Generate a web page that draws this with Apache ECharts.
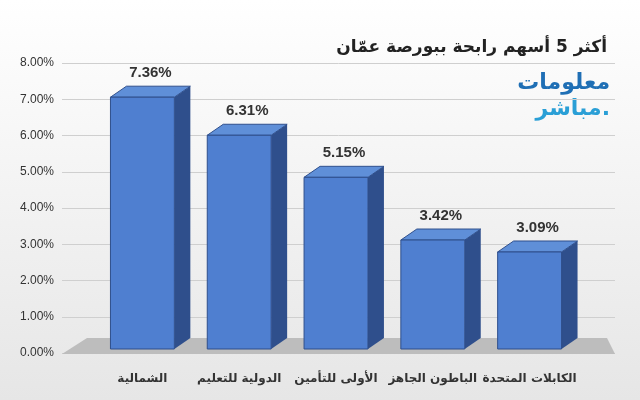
<!DOCTYPE html>
<html>
<head>
<meta charset="utf-8">
<script src="https://cdn.jsdelivr.net/npm/echarts@6/dist/echarts.min.js"></script>
<style>
html,body{margin:0;padding:0;}
#main{width:640px;height:400px;background:linear-gradient(#ffffff,#e6e6e6);}
</style>
</head>
<body>
<div id="main"></div>
<script>
var categories = ['الشمالية', 'الدولية للتعليم', 'الأولى للتأمين', 'الباطون الجاهز', 'الكابلات المتحدة'];
var values = [7.36, 6.31, 5.15, 3.42, 3.09];

var chart = echarts.init(document.getElementById('main'));
var DX = 16, DY = -11;

var option = {
    animation: false,
    title: {
        text: 'أكثر 5 أسهم رابحة ببورصة عمّان',
        right: 28,
        top: 34,
        textStyle: {fontFamily: 'DejaVu Sans', fontSize: 17, fontWeight: 'bold', color: '#222'}
    },
    graphic: [
        {type: 'text', right: 30, top: 72, style: {text: 'معلومات', font: 'bold 22px DejaVu Sans', fill: '#1f6fb5'}},
        {type: 'text', right: 30, top: 98, style: {text: 'مباشر.', font: 'bold 22px DejaVu Sans', fill: '#2a9fd6'}}
    ],
    grid: [
        {left: 62, right: 25, top: 63, bottom: 47},
        {left: 94, right: 62, top: 63, bottom: 47}
    ],
    xAxis: [
        {type: 'category', gridIndex: 0, data: [''], show: false},
        {
            type: 'category',
            gridIndex: 1,
            data: categories,
            axisLine: {show: false},
            axisTick: {show: false},
            axisLabel: {interval: 0, margin: 20, fontFamily: 'DejaVu Sans', fontSize: 12, fontWeight: 'bold', color: '#333'}
        }
    ],
    yAxis: [
        {
            type: 'value',
            gridIndex: 0,
            min: 0, max: 8, interval: 1,
            axisLine: {show: false},
            axisTick: {show: false},
            splitLine: {lineStyle: {color: '#cfcfcf'}},
            axisLabel: {formatter: function (v) { return v.toFixed(2) + '%'; }, fontFamily: 'Liberation Sans', fontSize: 12, color: '#333'}
        },
        {type: 'value', gridIndex: 1, min: 0, max: 8, interval: 1, show: false}
    ],
    series: [
        {
            type: 'custom',
            xAxisIndex: 0, yAxisIndex: 0,
            data: [0],
            silent: true,
            z: 1,
            renderItem: function (params, api) {
                var a = api.coord([0, 0]);
                var cs = params.coordSys;
                var x0 = cs.x, x1 = cs.x + cs.width;
                return {
                    type: 'polygon',
                    shape: {points: [[x0, a[1] + 1], [x1, a[1] + 1], [x1 - 8, a[1] - 15], [x0 + 25, a[1] - 15]]},
                    style: {fill: '#bdbdbd'}
                };
            }
        },
        {
            type: 'custom',
            xAxisIndex: 1, yAxisIndex: 1,
            data: values.map(function (v, i) { return [i, v]; }),
            z: 2,
            renderItem: function (params, api) {
                var i = api.value(0), v = api.value(1);
                var top = api.coord([i, v]);
                var base = api.coord([i, 0]);
                var w = api.size([1, 0])[0] * 0.66;
                var l = top[0] - w / 2, r = l + w;
                var t = top[1] - DY, b = base[1] - 4;
                return {
                    type: 'group',
                    children: [
                        {type: 'polygon', shape: {points: [[r, t], [r + DX, t + DY], [r + DX, b + DY], [r, b]]}, style: {fill: '#2f4f8c'}},
                        {type: 'polygon', shape: {points: [[l, t], [l + DX, t + DY], [r + DX, t + DY], [r, t]]}, style: {fill: '#5f8fd8', stroke: '#2f4f8c', lineWidth: 1}},
                        {type: 'rect', shape: {x: l, y: t, width: w, height: b - t}, style: {fill: '#4f7fd0', stroke: '#2f4f8c', lineWidth: 1}},
                        {type: 'text', style: {text: v.toFixed(2) + '%', x: l + w / 2 + DX / 2, y: t + DY - 6, align: 'center', verticalAlign: 'bottom', font: 'bold 15px Liberation Sans', fill: '#333'}}
                    ]
                };
            }
        }
    ]
};
option && chart.setOption(option);
</script>
</body>
</html>
